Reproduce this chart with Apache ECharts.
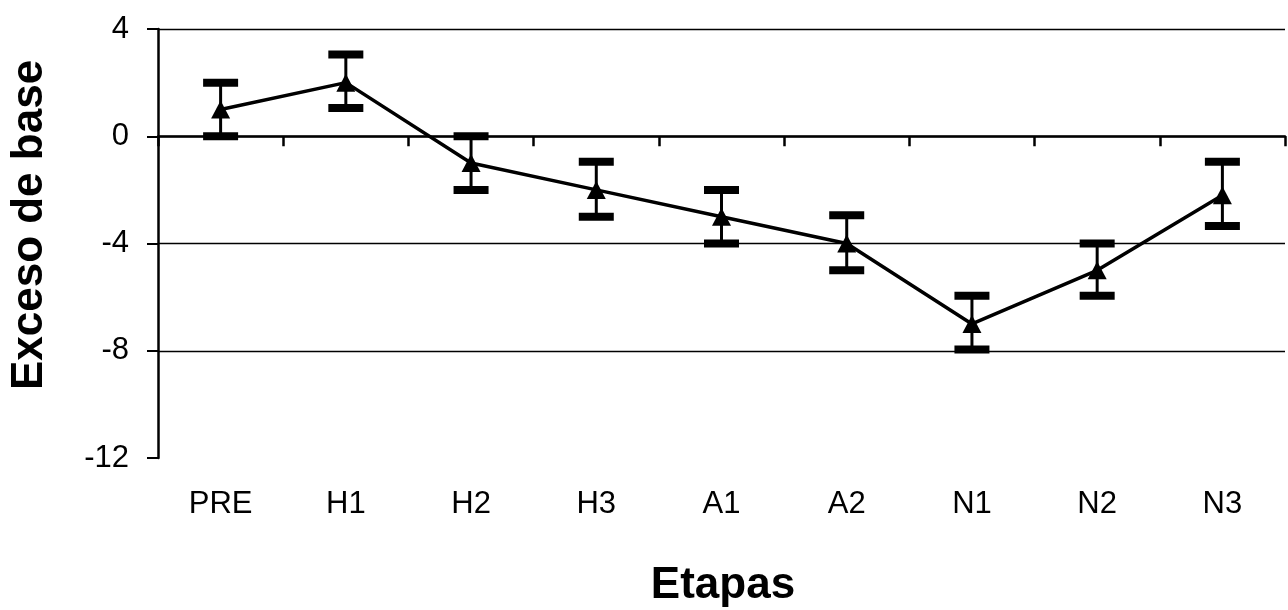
<!DOCTYPE html>
<html>
<head>
<meta charset="utf-8">
<script src="https://cdn.jsdelivr.net/npm/echarts@6/dist/echarts.min.js"></script>
<style>
html,body{margin:0;padding:0;background:#fff;}
#chart{width:1288px;height:610px;}
</style>
</head>
<body>
<div id="chart"></div>
<script>
const categories = ['PRE', 'H1', 'H2', 'H3', 'A1', 'A2', 'N1', 'N2', 'N3'];
const means = [1, 2, -1, -2, -3, -4, -7, -5, -2.2];
const upper = [2, 3.05, 0, -0.95, -2, -2.95, -5.95, -4, -0.95];
const lower = [0, 1.05, -2, -3, -4, -5, -7.95, -5.95, -3.35];
const yMin = -12, yMax = 4, yStep = 4;
const xTitle = 'Etapas';
const yTitle = 'Exceso de base';

const FONT = "'Liberation Sans', Arial, sans-serif";
const errData = categories.map((c, i) => [i, lower[i], upper[i]]);

const chart = echarts.init(document.getElementById('chart'));
chart.setOption({
  animation: false,
  backgroundColor: '#fff',
  grid: { left: 158, right: 3, top: 29, bottom: 152, containLabel: false },
  xAxis: [
    {
      type: 'category', data: categories, position: 'bottom',
      axisLine: { show: false, onZero: false },
      axisTick: { show: false },
      splitLine: { show: false },
      axisLabel: { margin: 31, fontSize: 31, color: '#000', fontFamily: FONT }
    },
    {
      type: 'category', data: categories, position: 'top',
      axisLine: { show: true, onZero: true, lineStyle: { color: '#000', width: 2.5 } },
      axisTick: { show: true, inside: true, length: 10, lineStyle: { color: '#000', width: 2.5 } },
      axisLabel: { show: false },
      splitLine: { show: false }
    }
  ],
  yAxis: {
    type: 'value', min: yMin, max: yMax, interval: yStep,
    axisLine: { show: true, lineStyle: { color: '#000', width: 2.5 } },
    axisTick: { show: true, length: 11, lineStyle: { color: '#000', width: 2 } },
    axisLabel: { margin: 29, fontSize: 31, color: '#000', fontFamily: FONT },
    splitLine: { show: true, showMinLine: false, lineStyle: { color: '#000', width: 1.3 } }
  },
  series: [
    {
      type: 'line', data: means, xAxisIndex: 0,
      symbol: 'triangle', symbolSize: [19, 18],
      lineStyle: { color: '#000', width: 3.5 },
      itemStyle: { color: '#000' },
      z: 3
    },
    {
      type: 'custom', data: errData, xAxisIndex: 0, z: 4,
      renderItem: function (params, api) {
        const x = api.value(0);
        const lo = api.coord([x, api.value(1)]);
        const hi = api.coord([x, api.value(2)]);
        const w = 35, h = 8;
        return {
          type: 'group',
          children: [
            { type: 'line', shape: { x1: hi[0], y1: hi[1], x2: lo[0], y2: lo[1] }, style: { stroke: '#000', lineWidth: 3 } },
            { type: 'rect', shape: { x: hi[0] - w / 2, y: hi[1] - h / 2, width: w, height: h }, style: { fill: '#000' } },
            { type: 'rect', shape: { x: lo[0] - w / 2, y: lo[1] - h / 2, width: w, height: h }, style: { fill: '#000' } }
          ]
        };
      }
    }
  ],
  graphic: [
    {
      type: 'text', x: 723, y: 586,
      style: { text: xTitle, font: "bold 44px 'Liberation Sans', Arial, sans-serif", fill: '#000', textAlign: 'center', textVerticalAlign: 'middle' }
    },
    {
      type: 'text', x: 30, y: 225, rotation: Math.PI / 2,
      style: { text: yTitle, font: "bold 44px 'Liberation Sans', Arial, sans-serif", fill: '#000', textAlign: 'center', textVerticalAlign: 'middle' }
    }
  ]
});
</script>
</body>
</html>
